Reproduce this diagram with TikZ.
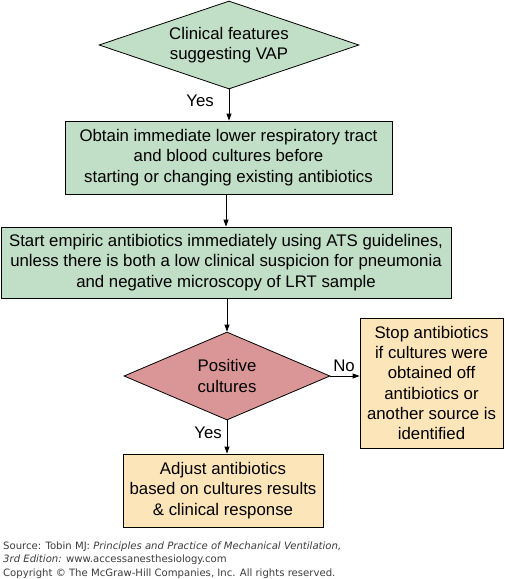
\documentclass[tikz,border=0pt]{standalone}
\usepackage{fontspec}
\setmainfont{Liberation Sans}
\newfontfamily\srcfont{DejaVu Sans}
\usetikzlibrary{shapes.geometric,arrows.meta}
\definecolor{boxgreen}{RGB}{193,222,198}
\definecolor{boxred}{RGB}{218,150,150}
\definecolor{boxtan}{RGB}{253,229,186}
\definecolor{srcgray}{RGB}{60,60,60}
\tikzset{
  every node/.style={font=\fontsize{16.8}{20.3}\selectfont},
  decision/.style={shape=diamond, draw=black, line width=0.8pt, inner sep=0pt, align=center},
  stepbox/.style={shape=rectangle, draw=black, line width=0.8pt, inner sep=0pt, align=center},
  conn/.style={line width=0.8pt, -{Triangle[length=7pt,width=5pt]}},
  lbl/.style={inner sep=1pt},
}
\begin{document}
\begin{tikzpicture}[x=1pt,y=-1pt]
\useasboundingbox[fill=white] (0,0) rectangle (504,579);
\node[decision, fill=boxgreen, shape aspect=2.95, minimum width=260pt, minimum height=88pt] (d1) at (229,45) {Clinical features\\suggesting VAP};
\node[stepbox, fill=boxgreen, minimum width=327pt, minimum height=73pt] (b1) at (228.5,157.5) {Obtain immediate lower respiratory tract\\and blood cultures before\\starting or changing existing antibiotics};
\node[stepbox, fill=boxgreen, minimum width=450pt, minimum height=71pt] (b2) at (226,262.5) {Start empiric antibiotics immediately using ATS guidelines,\\unless there is both a low clinical suspicion for pneumonia\\and negative microscopy of LRT sample};
\node[decision, fill=boxred, shape aspect=2.34, minimum width=206pt, minimum height=88pt] (d2) at (227,376) {Positive\\cultures};
\node[stepbox, fill=boxtan, minimum width=143pt, minimum height=130pt] (b3) at (431.5,383) {Stop antibiotics\\if cultures were\\obtained off\\antibiotics or\\another source is\\identified};
\node[stepbox, fill=boxtan, minimum width=200pt, minimum height=73pt] (b4) at (223,490.5) {Adjust antibiotics\\based on cultures results\\\& clinical response};
\draw[conn] (d1.south) -- (d1.south |- b1.north);
\draw[conn] (b1.south -| b2.north) -- (b2.north);
\draw[conn] (b2.south -| d2.north) -- (d2.north);
\draw[conn] (d2.east) -- (d2.east -| b3.west);
\draw[conn] (d2.south) -- (d2.south |- b4.north);
\node[lbl, anchor=east] (y1) at (215,101) {Yes};
\node[lbl, anchor=south] (n1) at (344,373) {No};
\node[lbl, anchor=east] (y2) at (223,433) {Yes};
\node[anchor=north west, inner sep=0pt, align=left, text=srcgray, font=\srcfont\fontsize{10.1}{12.5}\selectfont] (src) at (3,542) {Source: Tobin MJ: \textit{Principles and Practice of Mechanical Ventilation,}\\\textit{3rd Edition:} www.accessanesthesiology.com};
\node[anchor=north west, inner sep=0pt, align=left, text=srcgray, font=\srcfont\fontsize{10.1}{12}\selectfont] (copy) at (3,569) {Copyright \textcopyright{} The McGraw-Hill Companies, Inc. All rights reserved.};
\end{tikzpicture}
\end{document}
